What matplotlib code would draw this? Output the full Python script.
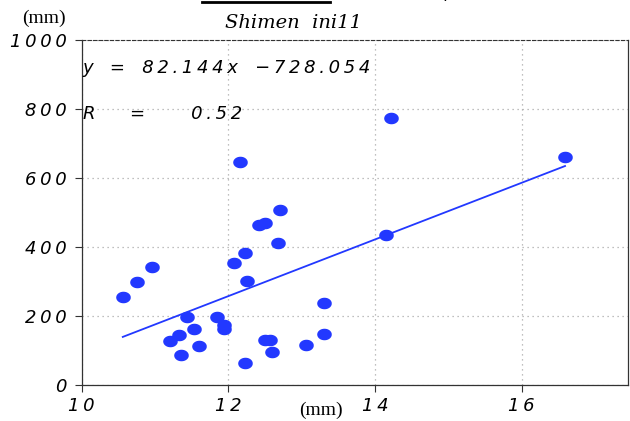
import matplotlib
matplotlib.use('Agg')
import matplotlib.pyplot as plt
import numpy as np
from matplotlib.path import Path
from matplotlib.lines import Line2D

# Datos (mm)
x_vals = [10.56, 10.75, 10.96, 11.20, 11.33, 11.35, 11.43, 11.53, 11.60, 11.85,
          11.94, 11.94, 12.08, 12.23, 12.25, 12.68, 12.23, 12.50, 12.57, 12.60,
          13.06, 13.30, 13.30, 12.16, 12.42, 12.50, 12.71, 14.15, 14.22, 16.59]
y_vals = [255, 299, 342, 128, 145, 87, 197, 162, 113, 197,
          174, 162, 354, 382, 302, 412, 65, 130, 130, 95,
          117, 148, 238, 645, 463, 470, 507, 436, 773, 662]

pendiente = 82.144
ordenada = -728.054
r_val = 0.52

xticks = [10, 12, 14, 16]
yticks = [0, 200, 400, 600, 800, 1000]

azul = '#2238ff'
TS = '\u2009'  # espacio fino para separar letras


def espaciar(s):
    return TS.join(s)


fig = plt.figure(figsize=(6.3, 4.21), dpi=100)
ax = fig.add_axes([0.1297, 0.0855, 0.8673, 0.8195])

# marcador elíptico (más ancho que alto)
t = np.linspace(0, 2 * np.pi, 40)
elipse = Path(np.column_stack([1.3 * np.cos(t), np.sin(t)]))

ax.plot(x_vals, y_vals, linestyle='none', marker=elipse, ms=9.5,
        color=azul, mec=azul, zorder=3)

# recta de regresión
xr = np.array([min(x_vals), max(x_vals)])
ax.plot(xr, pendiente * xr + ordenada, color=azul, lw=1.3, zorder=2)

ax.set_xlim(10, 17.45)
ax.set_ylim(0, 1000)
ax.set_xticks(xticks)
ax.set_yticks(yticks)
ax.set_xticklabels([espaciar(str(v)) for v in xticks])
ax.set_yticklabels([espaciar(str(v)) for v in yticks])
ax.grid(True, color='#aaaaaa', linestyle=(0, (1, 3)), lw=0.9)

ax.tick_params(direction='out', length=5, width=0.8, color='#333333')
ax.tick_params(axis='y', pad=6)
for lab in ax.get_xticklabels() + ax.get_yticklabels():
    lab.set_fontstyle('italic')
    lab.set_fontsize(13)
    lab.set_fontfamily('DejaVu Sans')

for s in ['left', 'bottom', 'right']:
    ax.spines[s].set_color('#333333')
    ax.spines[s].set_linewidth(0.9)
ax.spines['top'].set_linestyle((0, (3, 2)))
ax.spines['top'].set_color('#333333')

# título (algo desplazado a la izquierda)
fig.text(293 / 630, 1 - 23 / 421, 'Shimen  ini11', fontsize=14, fontstyle='italic',
         family='DejaVu Serif', ha='center', va='center')

# textos de la ecuación
eq = espaciar('y') + '   =   ' + espaciar('82.144x') + '   ' + espaciar('\u2212728.054')
ax.text(0.002, 0.92, eq, transform=ax.transAxes,
        fontsize=13, fontstyle='italic', va='center', ha='left')
rt = espaciar('R') + '      =        ' + espaciar('%.2f' % r_val)
ax.text(0.002, 0.785, rt, transform=ax.transAxes,
        fontsize=13, fontstyle='italic', va='center', ha='left')

# unidades
fig.text(22 / 630, 1 - 18 / 421, '(mm)', fontsize=14, family='Liberation Serif',
         va='center', ha='left')
fig.text(299 / 630, 1 - 410 / 421, '(mm)', fontsize=14, family='Liberation Serif',
         va='center', ha='left')

# título cortado arriba (subrayado)
fig.add_artist(Line2D([202 / 630, 330 / 630], [1 - 1.5 / 421, 1 - 1.5 / 421],
                      color='black', lw=2, transform=fig.transFigure))
fig.text(443 / 630, 1 - 3 / 421, ')', fontsize=13, va='bottom', ha='left')

fig.savefig('out.png', dpi=100)
